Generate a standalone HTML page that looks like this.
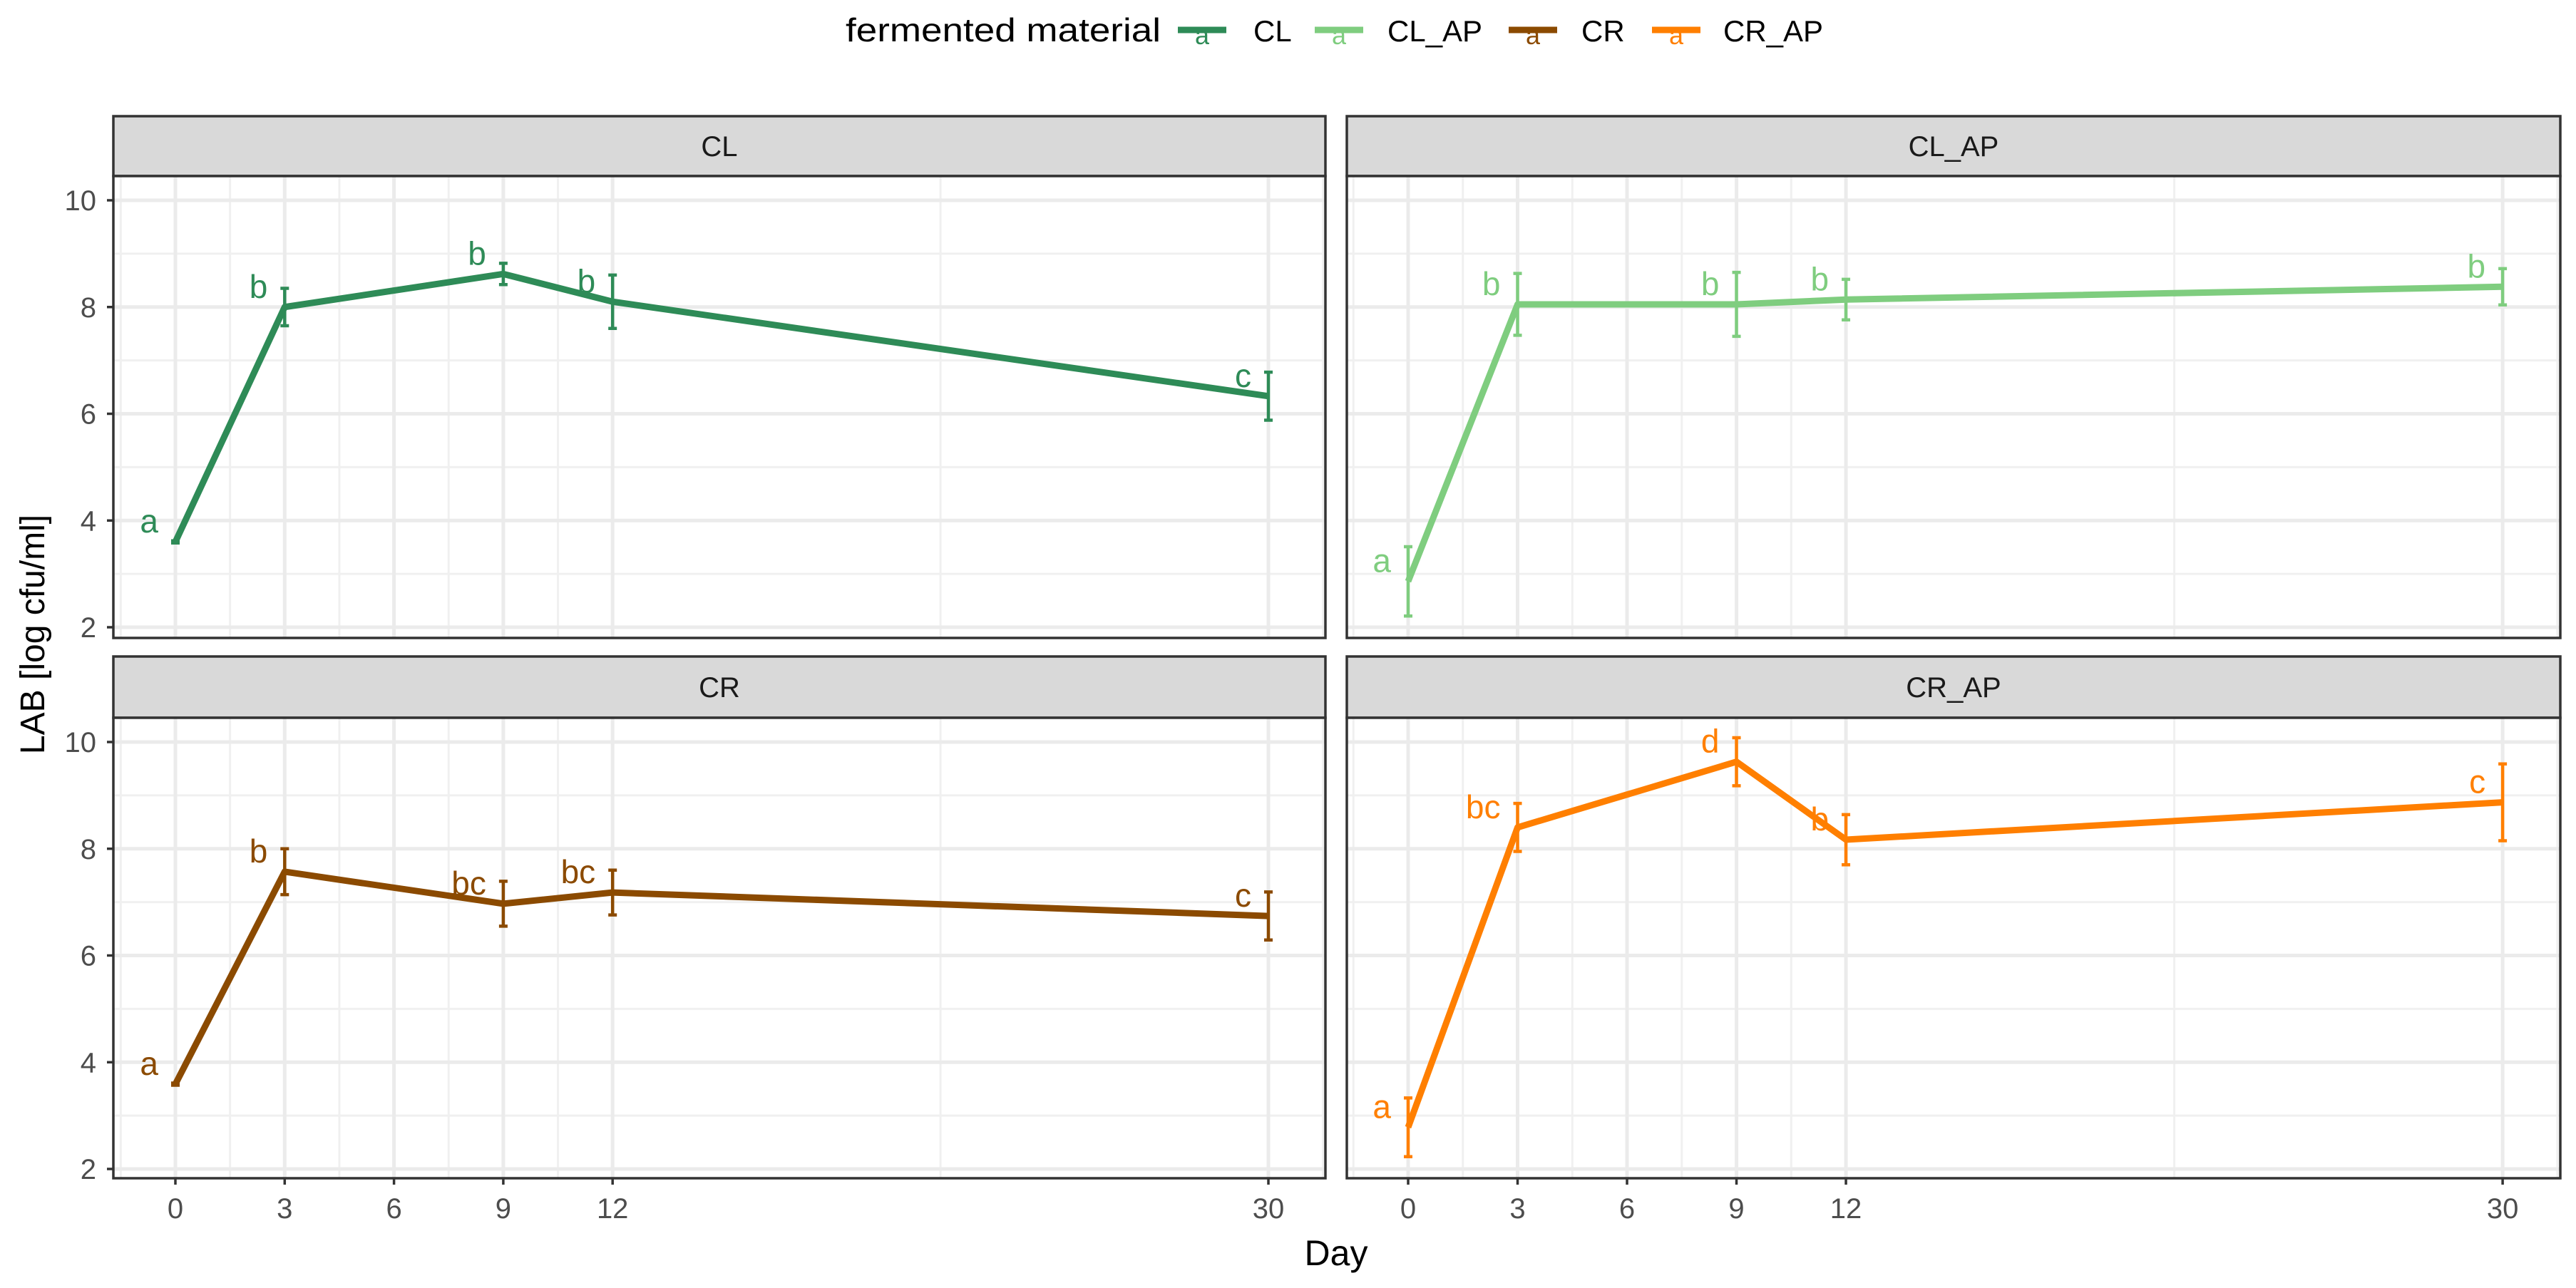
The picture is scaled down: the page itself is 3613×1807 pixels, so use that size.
<!DOCTYPE html>
<html><head><meta charset="utf-8">
<style>
html,body{margin:0;padding:0;background:#fff;}
svg{display:block;font-family:"Liberation Sans",Arial,sans-serif;}
</style></head>
<body>
<svg id="chart" width="3613" height="1807" viewBox="0 0 3613 1807" xmlns="http://www.w3.org/2000/svg">
<rect x="0" y="0" width="3613" height="1807" fill="#fff"/>
<g id="legend">
  <text x="1186" y="58" font-size="46" textLength="442" lengthAdjust="spacingAndGlyphs" fill="#000">fermented material</text>
</g>
<g id="panels"></g>
<text transform="translate(62,890) rotate(-90)" text-anchor="middle" font-size="48" fill="#000">LAB [log cfu/ml]</text>
<text x="1874" y="1775" text-anchor="middle" font-size="50" fill="#000">Day</text>
</svg>
<script>
const groups = ["CL","CL_AP","CR","CR_AP"];
const colors = ["#2e8b57","#7fcd7f","#8b4a00","#ff7f00"];
const days = [0,3,9,12,30];
const meanCL = [3.6,8.0,8.62,8.1,6.33];
const errCL = [0.02,0.35,0.2,0.5,0.45];
const meanCLAP = [2.86,8.05,8.05,8.14,8.38];
const errCLAP = [0.65,0.58,0.6,0.38,0.34];
const meanCR = [3.59,7.57,6.97,7.18,6.74];
const errCR = [0.02,0.43,0.42,0.42,0.45];
const meanCRAP = [2.78,8.4,9.63,8.17,8.87];
const errCRAP = [0.55,0.45,0.45,0.47,0.72];
const lettersCL = ["a","b","b","b","c"];
const lettersCLAP = ["a","b","b","b","b"];
const lettersCR = ["a","b","bc","bc","c"];
const lettersCRAP = ["a","bc","d","b","c"];
const xTicks = [0,3,6,9,12,30];
const xMinor = [-1.5,1.5,4.5,7.5,10.5,21,31.5];
const yTicks = [2,4,6,8,10];
const yMinor = [3,5,7,9];

const means=[meanCL,meanCLAP,meanCR,meanCRAP];
const errs=[errCL,errCLAP,errCR,errCRAP];
const letters=[lettersCL,lettersCLAP,lettersCR,lettersCRAP];
const NS="http://www.w3.org/2000/svg";
const P=document.getElementById('panels');
function mk(tag,attrs,parent){const e=document.createElementNS(NS,tag);for(const k in attrs)e.setAttribute(k,attrs[k]);(parent||P).appendChild(e);return e;}
const cols=[{l:159,r:1859,x0:246,k:51.1},{l:1889,r:3591,x0:1975,k:51.17}];
const rows=[{st:163,sb:247,pb:895,y10:281,y2:880},{st:921,sb:1007,pb:1653,y10:1041,y2:1640}];
groups.forEach((g,i)=>{
  const c=cols[i%2], r=rows[Math.floor(i/2)];
  const X=d=>c.x0+d*c.k;
  const Y=v=>r.y2+(v-2)*(r.y10-r.y2)/8;
  const G=mk('g',{});
  
  
  const strip=mk('rect',{x:c.l,y:r.st,width:c.r-c.l,height:r.sb-r.st,fill:'#d9d9d9',stroke:'#333','stroke-width':3.5},G);
  
  
  const st=mk('text',{x:(c.l+c.r)/2,y:(r.st+r.sb)/2+14,'text-anchor':'middle','font-size':40,fill:'#1a1a1a'},G);
  st.textContent=g;
  
  
  const bg=mk('rect',{x:c.l,y:r.sb,width:c.r-c.l,height:r.pb-r.sb,fill:'#fff'},G);
  
  
  yMinor.forEach(v=>{const l=mk('line',{x1:c.l,x2:c.r,y1:Y(v),y2:Y(v),stroke:'#f0f0f0','stroke-width':3},G);});
  xMinor.forEach(d=>{const l=mk('line',{x1:X(d),x2:X(d),y1:r.sb,y2:r.pb,stroke:'#f0f0f0','stroke-width':3},G);});
  yTicks.forEach(v=>{const l=mk('line',{x1:c.l,x2:c.r,y1:Y(v),y2:Y(v),stroke:'#ebebeb','stroke-width':5},G);});
  xTicks.forEach(d=>{const l=mk('line',{x1:X(d),x2:X(d),y1:r.sb,y2:r.pb,stroke:'#ebebeb','stroke-width':5},G);});
  const col=colors[i], m=means[i], e=errs[i];
  days.forEach((d,j)=>{
    const eb=mk('path',{d:`M${X(d)-6},${Y(m[j]+e[j])}H${X(d)+6}M${X(d)},${Y(m[j]+e[j])}V${Y(m[j]-e[j])}M${X(d)-6},${Y(m[j]-e[j])}H${X(d)+6}`,stroke:col,'stroke-width':4.5,fill:'none'},G);
    
    
  });
  const line=mk('polyline',{points:days.map((d,j)=>X(d)+','+Y(m[j])).join(' '),fill:'none',stroke:col,'stroke-width':9,'stroke-linejoin':'round'},G);
  
  
  days.forEach((d,j)=>{
    const t=mk('text',{x:X(d)-24,y:Y(m[j])-13,'text-anchor':'end','font-size':46,fill:col},G);
    t.textContent=letters[i][j];
    
    
  });
  const border=mk('rect',{x:c.l,y:r.sb,width:c.r-c.l,height:r.pb-r.sb,fill:'none',stroke:'#333','stroke-width':3.5},G);
  
  
  if(i%2===0){
    yTicks.forEach(v=>{
      const tk=mk('line',{x1:c.l-9,x2:c.l,y1:Y(v),y2:Y(v),stroke:'#333','stroke-width':3.5},G);
      
      
      const tl=mk('text',{x:c.l-24,y:Y(v)+14,'text-anchor':'end','font-size':40,fill:'#4d4d4d'},G);
      tl.textContent=v;
      
      
    });
  }
  if(i>=2){
    xTicks.forEach(d=>{
      const tk=mk('line',{x1:X(d),x2:X(d),y1:r.pb,y2:r.pb+9,stroke:'#333','stroke-width':3.5},G);
      
      
      const tl=mk('text',{x:X(d),y:1709,'text-anchor':'middle','font-size':40,fill:'#4d4d4d'},G);
      tl.textContent=d;
      
      
    });
  }
});
const L=document.getElementById('legend');
const keyX=[1652,1844,2116,2317], txtX=[1758,1946,2218,2417];
groups.forEach((g,i)=>{
  const k=mk('line',{x1:keyX[i],x2:keyX[i]+68,y1:42,y2:42,stroke:colors[i],'stroke-width':9},L);
  
  
  const ka=mk('text',{x:keyX[i]+34,y:62,'text-anchor':'middle','font-size':36,fill:colors[i]},L);
  ka.textContent='a';
  
  
  const t=mk('text',{x:txtX[i],y:58,'font-size':42,fill:'#000'},L);
  t.textContent=g;
  
  
});
</script>
</body></html>
